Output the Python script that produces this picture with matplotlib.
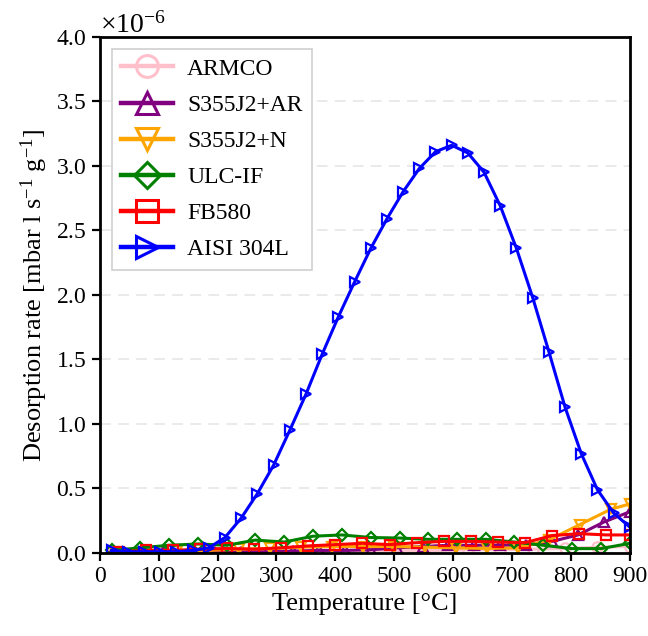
# Desorption rate vs temperature for six steel grades

import numpy as np
import matplotlib
matplotlib.use('Agg')
import matplotlib.pyplot as plt
from matplotlib.ticker import ScalarFormatter

plt.rcParams['font.family'] = ['Liberation Serif', 'DejaVu Serif']
plt.rcParams['mathtext.fontset'] = 'custom'
plt.rcParams['mathtext.rm'] = 'Liberation Serif'
plt.rcParams['mathtext.it'] = 'Liberation Serif:italic'

# values in 1e-6 mbar l s^-1 g^-1
armco_t = [20, 75, 130, 185, 240, 295, 350, 405, 460, 515, 570, 625, 680, 735, 790, 845, 900]
armco_r = [0.0, 0.005, 0.005, 0.01, 0.01, 0.01, 0.015, 0.015, 0.02, 0.02, 0.02, 0.025,
           0.025, 0.03, 0.035, 0.045, 0.05]

s355ar_t = [20, 64, 108, 152, 196, 240, 284, 328, 372, 416, 460, 504, 548, 592, 636,
            680, 724, 768, 812, 856, 900]
s355ar_r = [0.0, 0.0, 0.005, 0.005, 0.01, 0.01, 0.01, 0.015, 0.02, 0.02, 0.025, 0.04,
            0.05, 0.06, 0.06, 0.06, 0.06, 0.09, 0.14, 0.24, 0.32]

s355n_t = [26, 79, 131, 184, 236, 289, 342, 394, 447, 499, 552, 605, 657, 710, 762,
           815, 868, 900]
s355n_r = [0.01, 0.01, 0.015, 0.02, 0.03, 0.035, 0.045, 0.05, 0.05, 0.05, 0.045, 0.04,
           0.035, 0.04, 0.1, 0.22, 0.34, 0.38]

ulc_t = [20, 69, 118, 167, 216, 264, 313, 362, 411, 460, 509, 558, 607, 656, 704,
         753, 802, 851, 900]
ulc_r = [0.02, 0.04, 0.06, 0.07, 0.06, 0.1, 0.085, 0.13, 0.14, 0.12, 0.116, 0.106,
         0.106, 0.106, 0.085, 0.06, 0.034, 0.034, 0.075]

fb580_t = [32, 78, 124, 170, 216, 262, 308, 354, 400, 446, 492, 538, 584, 630, 676,
           722, 768, 814, 860, 900]
fb580_r = [0.01, 0.02, 0.02, 0.03, 0.035, 0.03, 0.04, 0.055, 0.065, 0.075, 0.065, 0.08,
           0.09, 0.09, 0.085, 0.08, 0.135, 0.15, 0.14, 0.14]

aisi_t = [20, 47.5, 75, 102.5, 130, 157.5, 185, 212.5, 240, 267.5, 295, 322.5, 350,
          377.5, 405, 432.5, 460, 487.5, 515, 542.5, 570, 597.5, 625, 652.5, 680,
          707.5, 735, 762.5, 790, 817.5, 845, 872.5, 900]
aisi_r = [0.02, 0.01, 0.01, 0.01, 0.01, 0.02, 0.04, 0.12, 0.27, 0.46, 0.68, 0.95, 1.23,
          1.54, 1.83, 2.10, 2.36, 2.59, 2.80, 2.98, 3.11, 3.16, 3.10, 2.95, 2.69,
          2.36, 1.98, 1.56, 1.13, 0.77, 0.49, 0.31, 0.20]

series = [
    ('ARMCO', armco_t, armco_r, 'pink', 'o'),
    ('S355J2+AR', s355ar_t, s355ar_r, 'purple', '^'),
    ('S355J2+N', s355n_t, s355n_r, 'orange', 'v'),
    ('ULC-IF', ulc_t, ulc_r, 'green', 'D'),
    ('FB580', fb580_t, fb580_r, 'red', 's'),
    ('AISI 304L', aisi_t, aisi_r, 'blue', '>'),
]

fig = plt.figure(figsize=(6.48, 6.36), dpi=100)
ax = fig.add_axes([0.154, 0.1305, 0.818, 0.8115])

for name, t, r, color, marker in series:
    ms = 6.5 if marker == 'D' else 7.5
    ax.plot(t, np.array(r) * 1e-6, color=color, lw=2.2, marker=marker, ms=ms,
            mfc='none', mew=1.6, label=name)

ax.set_xlim(0, 900)
ax.set_ylim(0, 4e-6)
ax.set_xticks(np.arange(0, 901, 100))
ax.set_yticks(np.arange(0, 4.01e-6, 0.5e-6))

fmt = ScalarFormatter(useMathText=True)
fmt.set_powerlimits((0, 0))
ax.yaxis.set_major_formatter(fmt)

ax.grid(axis='y', color='#e8e8e8', ls=(0, (6, 4)), lw=1.3)
ax.set_axisbelow(True)

for sp in ax.spines.values():
    sp.set_linewidth(2)
ax.tick_params(direction='out', length=6, width=1.6, labelsize=17)
ax.yaxis.get_offset_text().set_fontsize(20)

ax.set_xlabel('Temperature [°C]', fontsize=19)
ax.set_ylabel('Desorption rate [mbar l s$^{-1}$ g$^{-1}$]', fontsize=19)

leg = ax.legend(loc='upper left', fontsize=17, markerscale=2.1, handlelength=2.2,
                handletextpad=0.6, labelspacing=0.62, borderpad=0.4,
                fancybox=False, edgecolor='#d0d0d0', framealpha=1)
leg.get_frame().set_linewidth(1.2)
for line in leg.get_lines():
    line.set_linewidth(3.2)
    line.set_markeredgewidth(2.2)

fig.savefig('out.png', dpi=100)
